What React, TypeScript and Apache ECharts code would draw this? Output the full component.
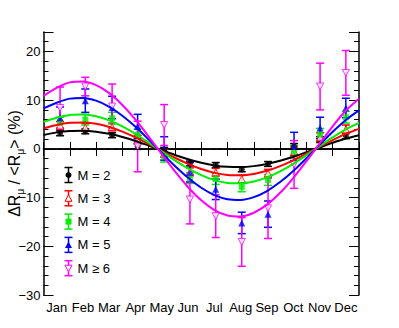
import React, { useEffect, useRef } from "react";
import * as echarts from "echarts";

const months = ["Jan", "Feb", "Mar", "Apr", "May", "Jun", "Jul", "Aug", "Sep", "Oct", "Nov", "Dec"];
const pointX = [0.63, 1.59, 2.61, 3.58, 4.59, 5.57, 6.55, 7.54, 8.54, 9.53, 10.52, 11.5];
const curveX = [0, 0.5, 1, 1.5, 2, 2.5, 3, 3.5, 4, 4.5, 5, 5.5, 6, 6.5, 7, 7.5, 8, 8.5, 9, 9.5, 10, 10.5, 11, 11.5, 12];

const labels = ["M = 2", "M = 3", "M = 4", "M = 5", "M \u2265 6"];
const colors = ["#000000", "#ff0000", "#00ee00", "#0000ff", "#ff00ff"];

const valsM2 = [3.2, 3.6, 2.8, 0.5, -0.2, -3.0, -3.3, -4.2, -3.1, 0.5, 1.9, 2.7];
const errM2 = [0.5, 0.5, 0.5, 0.6, 0.5, 0.5, 0.5, 0.5, 0.5, 0.6, 0.6, 0.6];
const valsM3 = [4.8, 4.4, 4.5, 1.9, -0.9, -4.7, -4.8, -6.2, -5.0, -0.5, 2.4, 4.0];
const errM3 = [0.8, 0.8, 0.8, 0.9, 0.8, 0.8, 0.8, 0.8, 0.8, 0.9, 0.9, 0.9];
const valsM4 = [5.4, 6.0, 6.3, 2.9, -1.6, -6.0, -6.2, -7.8, -6.4, -0.6, 3.0, 6.5];
const errM4 = [1.1, 1.1, 1.2, 1.2, 1.1, 1.1, 1.1, 1.0, 1.1, 1.3, 1.2, 1.2];
const valsM5 = [6.4, 9.9, 8.5, 4.6, 0.1, -4.8, -8.3, -15.2, -13.4, 0.5, 4.3, 8.4];
const errM5 = [2.2, 2.4, 2.3, 2.5, 2.4, 2.0, 2.1, 2.2, 2.7, 2.9, 2.2, 2.0];
const valsM6 = [8.4, 12.8, 8.7, 0.5, 4.9, -10.4, -13.8, -19.1, -12.2, -3.2, 12.8, 15.6];
const errM6 = [4.3, 1.9, 4.6, 5.2, 4.2, 5.0, 4.4, 5.0, 6.2, 4.9, 4.8, 4.6];

const fitM2 = [2.85, 3.39, 3.69, 3.74, 3.54, 3.09, 2.43, 1.62, 0.68, -0.29, -1.25, -2.12, -2.85, -3.39, -3.69, -3.74, -3.54, -3.09, -2.43, -1.62, -0.68, 0.29, 1.25, 2.12, 2.8];
const fitM3 = [4.2, 4.92, 5.36, 5.43, 5.14, 4.49, 3.54, 2.35, 0.99, -0.43, -1.82, -3.08, -4.14, -4.92, -5.36, -5.43, -5.14, -4.49, -3.54, -2.35, -0.99, 0.43, 1.82, 3.08, 4.1];
const fitM4 = [5.55, 6.41, 6.98, 7.08, 6.7, 5.85, 4.61, 3.06, 1.29, -0.55, -2.37, -4.02, -5.4, -6.41, -6.98, -7.08, -6.7, -5.85, -4.61, -3.06, -1.29, 0.55, 2.37, 4.02, 5.35];
const fitM5 = [8.3, 9.48, 10.32, 10.47, 9.9, 8.65, 6.81, 4.53, 1.91, -0.82, -3.51, -5.94, -7.98, -9.48, -10.32, -10.47, -9.9, -8.65, -6.81, -4.53, -1.91, 0.82, 3.51, 5.94, 7.9];
const fitM6 = [10.9, 12.55, 13.66, 13.86, 13.11, 11.45, 9.02, 5.99, 2.53, -1.08, -4.64, -7.87, -10.56, -12.55, -13.66, -13.86, -13.11, -11.45, -9.02, -5.99, -2.53, 1.08, 4.64, 7.87, 10.3];

const allVals = [valsM2, valsM3, valsM4, valsM5, valsM6];
const allErrs = [errM2, errM3, errM4, errM5, errM6];
const allFits = [fitM2, fitM3, fitM4, fitM5, fitM6];

const FONT = "'Liberation Sans', Arial, Helvetica, sans-serif";
const markerDefs = [
  { symbol: "circle", size: 6, open: false, rotate: 0 },
  { symbol: "triangle", size: 7, open: true, rotate: 0 },
  { symbol: "rect", size: 6, open: false, rotate: 0 },
  { symbol: "triangle", size: 7, open: false, rotate: 0 },
  { symbol: "triangle", size: 7, open: true, rotate: 180 },
];

function legendGraphics() {
  const els: any[] = [];
  const cx = 68.5;
  labels.forEach((lab, i) => {
    const cy = 175 + i * 23.3;
    const c = colors[i];
    const ls = { stroke: c, lineWidth: 1.5 };
    els.push({ type: "line", shape: { x1: cx, y1: cy - 7.5, x2: cx, y2: cy + 7.5 }, style: ls, z: 10 });
    els.push({ type: "line", shape: { x1: cx - 4, y1: cy - 7.5, x2: cx + 4, y2: cy - 7.5 }, style: ls, z: 10 });
    els.push({ type: "line", shape: { x1: cx - 4, y1: cy + 7.5, x2: cx + 4, y2: cy + 7.5 }, style: ls, z: 10 });
    const m = markerDefs[i];
    if (m.symbol === "circle") {
      els.push({ type: "circle", shape: { cx, cy, r: 3 }, style: { fill: c }, z: 11 });
    } else if (m.symbol === "rect") {
      els.push({ type: "rect", shape: { x: cx - 3, y: cy - 3, width: 6, height: 6 }, style: { fill: c }, z: 11 });
    } else {
      const pts = m.rotate === 180
        ? [[cx - 3.5, cy - 3], [cx + 3.5, cy - 3], [cx, cy + 3.5]]
        : [[cx - 3.5, cy + 3], [cx + 3.5, cy + 3], [cx, cy - 3.5]];
      els.push({
        type: "polygon",
        shape: { points: pts },
        style: m.open ? { fill: "#fff", stroke: c, lineWidth: 1 } : { fill: c },
        z: 11,
      });
    }
    els.push({
      type: "text",
      x: 77.5,
      y: cy,
      style: { text: lab, fill: "#000", font: `13px ${FONT}`, textVerticalAlign: "middle", verticalAlign: "middle" },
      z: 11,
    });
  });
  return els;
}

export default function App() {
  const ref = useRef<HTMLDivElement>(null);
  useEffect(() => {
    if (!ref.current) return;
    const chart = echarts.init(ref.current, null, { renderer: "svg" });
    const gridRect = { left: 43.5, right: 40, top: 32, bottom: 33, containLabel: false, outerBoundsMode: "none" };
    const axisLine = { show: true, lineStyle: { color: "#000", width: 1.5 } };
    const series: any[] = [];

    allVals.forEach((vals, i) => {
      const errs = allErrs[i];
      const c = colors[i];
      series.push({
        type: "custom",
        xAxisIndex: 1,
        yAxisIndex: 0,
        z: 3,
        data: vals.map((v, k) => [pointX[k], v - errs[k], v + errs[k]]),
        encode: { x: 0, y: [1, 2] },
        renderItem: (params: any, api: any) => {
          const x = api.value(0);
          const p1 = api.coord([x, api.value(2)]);
          const p2 = api.coord([x, api.value(1)]);
          const st = { stroke: c, lineWidth: 1.5 };
          return {
            type: "group",
            children: [
              { type: "line", shape: { x1: p1[0], y1: p1[1], x2: p2[0], y2: p2[1] }, style: st },
              { type: "line", shape: { x1: p1[0] - 4, y1: p1[1], x2: p1[0] + 4, y2: p1[1] }, style: st },
              { type: "line", shape: { x1: p2[0] - 4, y1: p2[1], x2: p2[0] + 4, y2: p2[1] }, style: st },
            ],
          };
        },
      });
      const m = markerDefs[i];
      series.push({
        type: "scatter",
        xAxisIndex: 1,
        yAxisIndex: 0,
        z: 4,
        symbol: m.symbol,
        symbolSize: m.size,
        symbolRotate: m.rotate,
        itemStyle: m.open ? { color: "#fff", borderColor: c, borderWidth: 1 } : { color: c },
        data: vals.map((v, k) => [pointX[k], v]),
      });
    });

    allFits.forEach((fit, i) => {
      series.push({
        type: "line",
        xAxisIndex: 1,
        yAxisIndex: 0,
        z: 5,
        smooth: 0.3,
        showSymbol: false,
        symbol: "none",
        lineStyle: { color: colors[i], width: 2 },
        data: fit.map((v, k) => [curveX[k], v]),
        markLine: i === 0
          ? {
              silent: true,
              symbol: "none",
              label: { show: false },
              lineStyle: { color: "#000", type: [4, 3], width: 1 },
              data: [{ yAxis: 0 }],
            }
          : undefined,
      });
    });

    chart.setOption({
      animation: false,
      backgroundColor: "#fff",
      grid: [{ ...gridRect }, { ...gridRect }],
      xAxis: [
        {
          type: "category",
          gridIndex: 0,
          position: "bottom",
          data: months,
          boundaryGap: true,
          axisLine,
          axisTick: { show: true, inside: true, length: 7, lineStyle: { color: "#000", width: 1 } },
          axisLabel: { color: "#000", fontSize: 13, fontFamily: FONT, margin: 6, interval: 0 },
          splitLine: { show: false },
        },
        {
          type: "value",
          gridIndex: 0,
          position: "top",
          min: 0,
          max: 12,
          interval: 1,
          axisLine,
          axisTick: { show: true, inside: true, length: 7, lineStyle: { color: "#000", width: 1 } },
          axisLabel: { show: false },
          splitLine: { show: false },
        },
        {
          type: "value",
          gridIndex: 1,
          min: 0,
          max: 12,
          show: false,
        },
      ],
      yAxis: [
        {
          type: "value",
          gridIndex: 0,
          position: "left",
          min: -30,
          max: 24,
          interval: 10,
          axisLine,
          axisTick: { show: true, inside: true, length: 10, lineStyle: { color: "#000", width: 1 } },
          axisLabel: {
            color: "#000",
            fontSize: 13,
            fontFamily: FONT,
            margin: 3,
            formatter: (v: number) => (v % 10 === 0 ? (v < 0 ? "\u2212" + Math.abs(v) : String(v)) : ""),
          },
          splitLine: { show: false },
          name: "{t|\u0394R}{s|\u03bc}{t| / <R}{s|\u03bc}{t|> (%)}",
          nameLocation: "middle",
          nameRotate: 90,
          nameGap: 18,
          nameMoveOverlap: false,
          nameTextStyle: {
            rich: {
              t: { fontSize: 16, fontFamily: FONT, color: "#000", lineHeight: 22, verticalAlign: "middle" },
              s: { fontSize: 10, fontFamily: FONT, color: "#000", lineHeight: 22, verticalAlign: "bottom" },
            },
          },
        },
        {
          type: "value",
          gridIndex: 0,
          position: "right",
          min: -30,
          max: 24,
          interval: 10,
          axisLine,
          axisTick: { show: true, inside: true, length: 10, lineStyle: { color: "#000", width: 1 } },
          axisLabel: { show: false },
          splitLine: { show: false },
        },
        {
          type: "value",
          gridIndex: 1,
          position: "left",
          min: -30,
          max: 24,
          interval: 2,
          axisLine: { show: false },
          axisTick: { show: true, inside: true, length: 5, lineStyle: { color: "#000", width: 1 } },
          axisLabel: { show: false },
          splitLine: { show: false },
        },
        {
          type: "value",
          gridIndex: 1,
          position: "right",
          min: -30,
          max: 24,
          interval: 2,
          axisLine: { show: false },
          axisTick: { show: true, inside: true, length: 5, lineStyle: { color: "#000", width: 1 } },
          axisLabel: { show: false },
          splitLine: { show: false },
        },
      ],
      graphic: legendGraphics(),
      series,
    });
    return () => chart.dispose();
  }, []);
  return (
    <div
      ref={ref}
      style={{ position: "fixed", left: 0, top: 0, width: 399, height: 328, background: "#fff" }}
    />
  );
}
